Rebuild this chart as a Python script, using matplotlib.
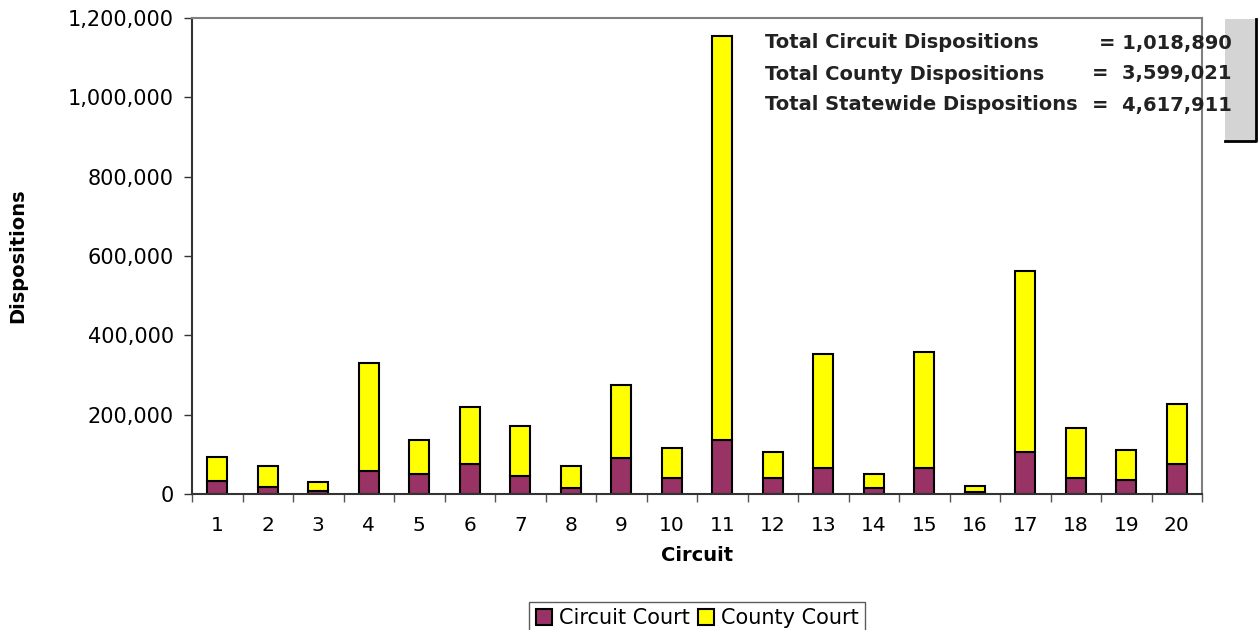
import matplotlib.pyplot as plt
from matplotlib.patches import Rectangle
from matplotlib.lines import Line2D
from matplotlib.ticker import FuncFormatter, MultipleLocator

circuits = [str(i) for i in range(1, 21)]
circuit_court = [33500, 18400, 8400, 58800, 49600, 75600, 44500, 14300, 89900, 40300,
                 135300, 40300, 64700, 14300, 64700, 5000, 105000, 40300, 35300, 75600]
totals = [94000, 70600, 30300, 331000, 135300, 220100, 170600, 70600, 275600, 116000,
          1154600, 105000, 353000, 49600, 358000, 19300, 562000, 166400, 110100, 226100]
county_court = [t - c for t, c in zip(totals, circuit_court)]

summary_labels = ['Total Circuit Dispositions', 'Total County Dispositions',
                  'Total Statewide Dispositions']
summary_values = ['= 1,018,890', '=  3,599,021', '=  4,617,911']

plt.rcParams['font.family'] = 'DejaVu Sans'

fig = plt.figure(figsize=(12.59, 6.3), dpi=100)
ax = fig.add_axes([192 / 1259, 1 - 494 / 630, (1202 - 192) / 1259, (494 - 18) / 630])

x = list(range(len(circuits)))
ax.bar(x, circuit_court, width=0.4, color='#993366', edgecolor='black', linewidth=1.5,
       label='Circuit Court')
ax.bar(x, county_court, width=0.4, bottom=circuit_court, color='#ffff00',
       edgecolor='black', linewidth=1.5, label='County Court')

ax.set_xlim(-0.5, 19.5)
ax.set_ylim(0, 1200000)
ax.yaxis.set_major_locator(MultipleLocator(200000))
ax.yaxis.set_major_formatter(FuncFormatter(lambda v, p: f'{int(v):,}'))
ax.set_xticks(x)
ax.set_xticklabels(circuits)
ax.set_xticks([i + 0.5 for i in range(-1, 20)], minor=True)
ax.tick_params(axis='x', which='major', length=0, pad=16, labelsize=14.5)
ax.tick_params(axis='x', which='minor', length=6, width=1, color='#555555')
ax.tick_params(axis='y', length=6, width=1, color='#333333', labelsize=15, pad=7)

for s in ['left', 'bottom']:
    ax.spines[s].set_color('#333333')
    ax.spines[s].set_linewidth(1.5)
for s in ['top', 'right']:
    ax.spines[s].set_color('#808080')
    ax.spines[s].set_linewidth(1.5)

ax.set_xlabel('Circuit', fontsize=14, fontweight='bold', labelpad=8)
ax.set_ylabel('Dispositions', fontsize=14, fontweight='bold')
ax.yaxis.set_label_coords(-0.163, 0.5)

# gray box partly hidden at the top right
fig.patches.append(Rectangle((1225 / 1259, 1 - 141 / 630), 32 / 1259, 122 / 630,
                             transform=fig.transFigure, facecolor='#d4d4d4',
                             edgecolor='none', zorder=1))
fig.lines.append(Line2D([1225 / 1259, 1256 / 1259, 1256 / 1259],
                        [1 - 141 / 630, 1 - 141 / 630, 1 - 19 / 630],
                        transform=fig.transFigure, color='black', linewidth=2))

for i, (lab, val) in enumerate(zip(summary_labels, summary_values)):
    yy = 1 - (43 + 31 * i) / 630
    fig.text(765 / 1259, yy, lab, fontsize=14, fontweight='bold', color='#222222',
             va='center', ha='left', zorder=5)
    fig.text(1232 / 1259, yy, val, fontsize=14, fontweight='bold', color='#222222',
             va='center', ha='right', zorder=5)

leg = fig.legend(loc='center', bbox_to_anchor=(697 / 1259, 1 - 618 / 630), ncol=2,
                 fontsize=15, frameon=True, fancybox=False, edgecolor='#333333',
                 handlelength=0.8, handleheight=0.8, handletextpad=0.3,
                 columnspacing=0.4, borderpad=0.3)
leg.get_frame().set_linewidth(1)

fig.savefig('out.png', dpi=100)
